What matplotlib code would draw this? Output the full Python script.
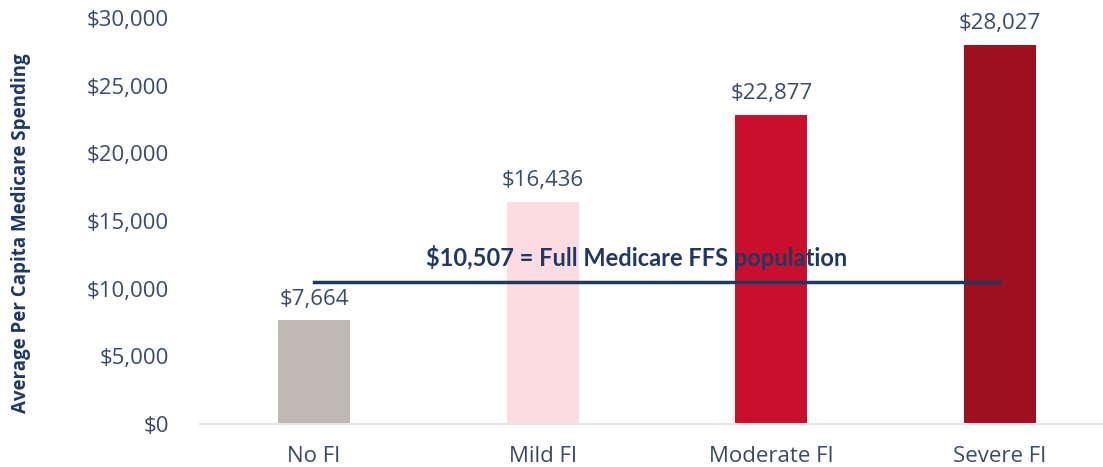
import matplotlib
matplotlib.use("Agg")
import matplotlib.pyplot as plt
from matplotlib.ticker import FuncFormatter

# data
categories = ["No FI", "Mild FI", "Moderate FI", "Severe FI"]
spending = [7664, 16436, 22877, 28027]
bar_colors = ["#bfb8b5", "#fcdce0", "#c8102e", "#9e0f20"]
ffs_value = 10507
ffs_label = "$10,507 = Full Medicare FFS population"
y_ticks = [0, 5000, 10000, 15000, 20000, 25000, 30000]

plt.rcParams['font.family'] = ['Open Sans', 'DejaVu Sans']
text_color = "#3b4a6b"
navy = "#1f3864"

fig = plt.figure(figsize=(11.03, 4.67), dpi=100)
ax = fig.add_axes([0.181, 0.092, 0.819, 0.869])

x = list(range(len(categories)))
ax.bar(x, spending, width=0.315, color=bar_colors, zorder=2)

# value labels on top of bars
for xi, v in zip(x, spending):
    ax.text(xi, v + 800, f"${v:,}", ha="center", va="bottom",
            fontsize=16, color=text_color)

# reference line for the full FFS population
ax.plot([x[0], x[-1]], [ffs_value, ffs_value], color=navy, lw=2.5, zorder=3)
ax.text(1.41, ffs_value + 900, ffs_label, ha="center", va="bottom",
        fontsize=17, fontweight="bold", family=['Lato', 'DejaVu Sans'],
        color=navy, zorder=4)

ax.set_xlim(-0.5, 3.45)
ax.set_ylim(0, 30000)
ax.set_yticks(y_ticks)
ax.yaxis.set_major_formatter(FuncFormatter(lambda v, p: f"${int(v):,}"))
ax.set_xticks(x)
ax.set_xticklabels(categories)
ax.tick_params(axis="both", length=0, labelsize=16, labelcolor=text_color)
ax.tick_params(axis="y", pad=22)
ax.tick_params(axis="x", pad=16)

for s in ["top", "right", "left"]:
    ax.spines[s].set_visible(False)
ax.spines["bottom"].set_color("#e6e6e6")
ax.spines["bottom"].set_linewidth(1.5)

fig.text(0.019, 0.50, "Average Per Capita Medicare Spending", rotation=90,
         ha="center", va="center", fontsize=13.5, fontweight="bold",
         color=navy, fontstretch="condensed")

fig.savefig("out.png", dpi=100)
